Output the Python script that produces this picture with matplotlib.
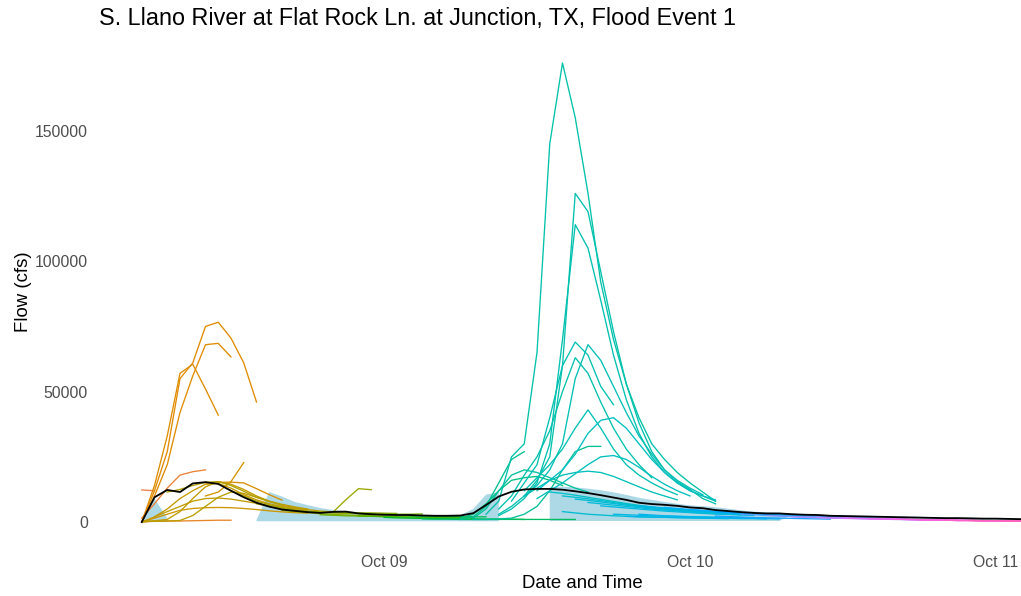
import numpy as np
import matplotlib
matplotlib.use("Agg")
import matplotlib.pyplot as plt
import matplotlib.dates as mdates
from datetime import datetime, timedelta

# Hours are counted from the start of 8 October 2018 (local time).
BASE = datetime(2018, 10, 8)

# Observed flow (cfs), hourly from hour 5 to hour 74
obs_start = 5
observed_cfs = [
    0, 9500, 12300, 11500, 14800, 15300, 14600, 12000, 9500, 7400,
    5900, 4800, 4300, 3800, 3500, 3900, 4000, 3300, 3000, 2800,
    2700, 2700, 2500, 2400, 2400, 2500, 3400, 6500, 9800, 11600,
    12500, 12700, 12700, 12400, 11800, 11100, 10300, 9400, 8500, 7400,
    6900, 6600, 6200, 5600, 5300, 4600, 4200, 3800, 3500, 3300,
    3300, 3000, 2800, 2700, 2400, 2300, 2200, 2100, 2000, 1900,
    1800, 1700, 1600, 1500, 1500, 1400, 1300, 1300, 1200, 1100,
]

nan = np.nan
# Observation envelope (same hourly grid; gaps where not available)
envelope_lo = [
    0, 0, 0, nan, nan, nan, nan, nan, nan, 300,
    300, 300, 300, 300, 300, 300, 300, 300, 300, 300,
    300, 300, 300, 300, 300, 300, 300, 300, 300, nan,
    nan, nan, 400, 400, 400, 400, 400, 400, 400, 400,
    400, 400, 400, 400, 400, 400, 400, 400, 400, 400,
    400, 2600, 2400, 2300, 2000, 1900, 1800, 1700, 1600, 1500,
    1400, 1300, 1200, 1100, 1100, 1000, 900, 900, 800, 700,
]
envelope_hi = [
    300, 9000, 1500, nan, nan, nan, nan, nan, nan, 800,
    11500, 9800, 7700, 6500, 5400, 4600, 4200, 3800, 3500, 3300,
    3100, 3000, 2800, 2700, 2700, 2700, 5000, 10500, 11500, nan,
    nan, nan, 13300, 13600, 13300, 12800, 12200, 11400, 10400, 9300,
    8500, 7700, 7000, 6400, 6100, 5700, 5100, 4500, 4000, 3700,
    3500, 3200, 3000, 2900, 2700, 2600, 2500, 2400, 2300, 2200,
    2100, 2000, 1900, 1800, 1700, 1700, 1600, 1500, 1400, 1300,
]

# Forecast runs: issue hour (drives colour), first plotted hour, hourly flows
event1_issue = [0, 0.5, 1, -4, -3, 4, 2, 6, 7, 5, 8, 9, 10, 12, -2, 15]
event1_start = [5, 5, 5, 5, 5, 10, 10, 5, 5, 5, 6, 5, 7, 12, 5, 20]
event1_flow = [
    [0, 12000, 27000, 55000, 61000, 75000, 76600, 70500, 61000, 46000],
    [0, 10000, 22000, 42000, 56000, 68000, 68500, 63300],
    [0, 14000, 33000, 57000, 60500, 51000, 41000],
    [12300, 12000],
    [1500, 7000, 13000, 18000, 19300, 20000],
    [10000, 11500, 15500, 22800],
    [15000, 15200, 15300, 15000, 12800, 10500, 8400],
    [0, 2000, 5000, 9000, 12000, 14500, 14800, 13000, 10500, 8500, 7000, 6000, 5200, 4600],
    [0, 500, 1000, 4000, 9000, 13500, 15500, 14500, 12500, 10000, 8000, 6500, 5500, 4800, 4200, 3900],
    [0, 1500, 3000, 4500, 5200, 5500, 5600, 5500, 5200, 4800, 4300, 3900, 3600, 3400],
    [2000, 4000, 6000, 8000, 9000, 9200, 8800, 8000, 7200, 6300, 5500, 4800],
    [300, 300, 400, 600, 2500, 6000, 9500, 11500, 11000, 9500, 8000, 6800, 5800, 5000],
    [11500, 12500, 14000, 15200, 15500, 14000, 11800, 9500, 7800, 6500],
    [12000, 10000, 8000, 6700, 5600, 4800, 4200, 3800, 3600],
    [0, 300, 400, 400, 500, 600, 700, 700],
    [3800, 8500, 12800, 12400],
]

lull_issue = [14, 17, 19, 16, 19.5, 22, 24, 27, 26]
lull_start = [14, 18, 21, 16, 19, 22, 24, 27, 26]
lull_flow = [
    [7000, 6000, 5200, 4500, 4000, 3700, 3500, 3300, 3200, 3100, 3000],
    [4000, 3800, 3700, 3600, 3500, 3500, 3400, 3300],
    [3500, 3300, 3100, 3000, 3000, 3000, 3100],
    [4500, 4000, 3600, 3200, 2900, 2700, 2500, 2400, 2300, 2200],
    [2800, 2600, 2400, 2300, 2200, 2100, 2000, 1900, 1900, 1800],
    [2300, 2200, 2100, 2000, 2000, 1900, 1800, 1800, 1700, 1700],
    [1800, 1600, 1500, 1400, 1300, 1300, 1200, 1200, 1100, 1100, 1100, 1000],
    [1200, 1100, 1100, 1000, 1000, 1000, 1000, 1000, 1000, 1000, 1000, 1000, 1000],
    [2400, 2300, 2200, 2100, 2100, 2000, 2000],
]

event2_issue = [29, 30, 30.5, 31, 32, 32.5, 33, 33.5, 34, 34.5, 35, 35.5, 36, 36.5]
event2_start = [30, 30, 31, 31, 32, 33, 33, 33, 34, 35, 35, 35, 36, 36]
event2_flow = [
    [1500, 3000, 7000, 12000, 16000, 17000, 17500, 16000, 14000],
    [1000, 2000, 6000, 15000, 24000, 27000],
    [1000, 1000, 1200, 1500, 3000, 6000, 12000, 20000, 27000, 29000, 29000],
    [1500, 5000, 12000, 18000, 20000, 19000, 17000, 15000, 13000, 11500],
    [3000, 8000, 25000, 30000, 65000, 145000, 176000, 155000, 126000, 92000,
     70000, 53000, 40000, 30000, 24000, 19000, 15000, 11500, 8000],
    [5000, 10000, 18000, 25000, 35000, 50000, 63000, 57000, 46000, 36000, 28000, 22000, 17000],
    [3000, 6000, 10000, 16000, 25000, 60000, 126000, 119000, 96000, 73000,
     53000, 38000, 27000, 20000, 15500, 12500, 9000, 7000],
    [2500, 5000, 9000, 15000, 30000, 70000, 114000, 105000, 85000, 64000,
     47000, 34000, 25000, 19000, 15000, 12000, 10000, 8000],
    [8000, 15000, 22000, 40000, 60000, 69000, 64000, 52000, 45000],
    [12000, 17000, 22000, 28000, 36000, 43000, 36000, 28000, 22000, 18000, 15000, 12500, 10500],
    [10000, 14000, 20000, 30000, 55000, 68000, 62000, 52000, 42000, 33000, 26000, 20000, 16000, 13000, 10500],
    [10000, 13000, 16000, 18000, 19000, 19500, 19000, 17500, 15500, 13500, 11500, 10000, 8500],
    [9000, 12000, 15000, 18500, 22000, 25000, 25500, 24000, 21000, 17500, 14500, 12000, 10000],
    [12000, 16000, 20000, 26000, 34000, 39000, 40000, 36000, 30000, 24000, 19000, 15000, 12000, 10000, 8500],
]

recess_issue = [37, 38, 38.5, 39, 40, 41, 42, 43, 44, 44.5, 46, 48, 50, 50.5, 52, 54, 56, 58, 60, 62, 64, 66, 68, 70]
recess_start = [37, 38, 38, 39, 40, 41, 42, 43, 44, 44, 46, 48, 50, 50, 52, 54, 56, 58, 60, 62, 64, 66, 68, 70]
recess_flow = [
    [11500, 11000, 10300, 9500, 8700, 7900, 7100, 6400, 5800, 5200, 4700, 4300, 3900],
    [10000, 9500, 8900, 8200, 7500, 6800, 6100, 5500, 5000, 4500, 4100, 3700, 3400],
    [4000, 3500, 3000, 2700, 2400, 2200, 2000, 1900, 1800, 1700, 1600, 1500, 1400, 1300],
    [8800, 8300, 7700, 7100, 6500, 5900, 5400, 4900, 4500, 4100, 3700, 3400, 3100],
    [7500, 7000, 6500, 6000, 5500, 5000, 4600, 4200, 3800, 3500, 3200, 3000, 2800],
    [6200, 5800, 5400, 5000, 4600, 4200, 3900, 3600, 3300, 3100, 2900, 2700, 2500],
    [3000, 2800, 2600, 2400, 2300, 2200, 2100, 2000, 1900, 1800, 1700, 1600, 1500],
    [2200, 2000, 1900, 1800, 1700, 1600, 1500, 1400, 1400, 1300, 1300, 1200],
    [6200, 5800, 5400, 5000, 4600, 4200, 3900, 3600, 3300, 3100, 2900, 2700, 2500],
    [3000, 2700, 2400, 2200, 2000, 1800, 1700, 1600, 1500, 1400, 1300, 1200],
    [5600, 5200, 4800, 4400, 4000, 3700, 3400, 3100, 2900, 2700, 2500, 2300],
    [4800, 4400, 4000, 3600, 3300, 3000, 2800, 2600, 2400, 2300, 2200, 2100],
    [3900, 3600, 3300, 3000, 2800, 2600, 2400, 2300, 2200, 2100, 2000, 1900],
    [2300, 2100, 1900, 1700, 1600, 1500, 1400, 1300, 1200, 1100],
    [3000, 2800, 2600, 2400, 2200, 2100, 2000, 1900, 1800, 1700, 1600, 1500],
    [2500, 2300, 2100, 1900, 1800, 1700, 1600, 1500, 1400, 1300, 1200, 1100],
    [2000, 1800, 1700, 1500, 1400, 1300, 1200, 1100, 1000, 900, 800, 700],
    [1800, 1600, 1500, 1400, 1300, 1200, 1100, 1000, 900, 800, 700, 700],
    [1500, 1400, 1300, 1200, 1100, 1000, 900, 800, 700, 700, 600, 600],
    [1300, 1200, 1100, 1000, 900, 800, 700, 600, 600, 500, 500, 500],
    [1100, 1000, 900, 800, 700, 600, 600, 500, 500, 400, 400],
    [900, 800, 700, 600, 600, 500, 500, 400, 400],
    [700, 600, 600, 500, 500, 400, 400],
    [600, 500, 500, 400, 400],
]

# Colour scale: issue hour -> hue on the HCL wheel (L=65, C=100)
scale_hours = [-4, 0, 5, 10, 16, 22, 27, 30, 32, 35, 37, 40, 45, 50, 55, 60, 65, 70]
scale_hues = [28, 42, 60, 78, 95, 120, 148, 168, 180, 186, 196, 210, 225, 245, 265, 300, 320, 340]


def hcl_rgb(hue, chroma=100.0, lum=65.0):
    """Polar CIE-Luv colour converted to clipped sRGB."""
    h = np.deg2rad(hue)
    U, V = chroma * np.cos(h), chroma * np.sin(h)
    Xn, Yn, Zn = 95.047, 100.0, 108.883
    d = Xn + 15 * Yn + 3 * Zn
    un, vn = 4 * Xn / d, 9 * Yn / d
    Y = Yn * ((lum + 16) / 116) ** 3
    u = U / (13 * lum) + un
    v = V / (13 * lum) + vn
    X = Y * 9 * u / (4 * v)
    Z = Y * (12 - 3 * u - 20 * v) / (4 * v)
    M = np.array([[3.240479, -1.537150, -0.498535],
                  [-0.969256, 1.875992, 0.041556],
                  [0.055648, -0.204043, 1.057311]])
    lin = M @ (np.array([X, Y, Z]) / 100.0)
    lin = np.clip(lin, 0, None)
    rgb = np.where(lin <= 0.0031308, 12.92 * lin, 1.055 * np.power(lin, 1 / 2.4) - 0.055)
    return tuple(np.clip(rgb, 0, 1))


def to_dates(hours):
    return [BASE + timedelta(hours=float(h)) for h in hours]


plt.rcParams['font.family'] = ['Liberation Sans', 'DejaVu Sans']

W, H = 1021, 596
fig = plt.figure(figsize=(W / 100, H / 100), dpi=100)
left, right, top, bottom = 92, 1072, 40, 545
ax = fig.add_axes([left / W, 1 - bottom / H, (right - left) / W, (bottom - top) / H])

grid_hours = obs_start + np.arange(len(observed_cfs))
grid_dates = to_dates(grid_hours)

ax.fill_between(grid_dates, np.array(envelope_lo, float), np.array(envelope_hi, float),
                color='#ADD8E6', linewidth=0, zorder=1)

runs = []
for issues, starts, flows in [(event1_issue, event1_start, event1_flow),
                              (lull_issue, lull_start, lull_flow),
                              (event2_issue, event2_start, event2_flow),
                              (recess_issue, recess_start, recess_flow)]:
    for iss, st, fl in zip(issues, starts, flows):
        runs.append((iss, st, fl))
runs.sort(key=lambda r: r[0])

for iss, st, fl in runs:
    hue = np.interp(iss, scale_hours, scale_hues)
    hrs = st + np.arange(len(fl))
    ax.plot(to_dates(hrs), fl, color=hcl_rgb(hue), linewidth=0.95, zorder=2,
            solid_joinstyle='round')

ax.plot(grid_dates, observed_cfs, color='black', linewidth=1.3, zorder=3)

x0 = 24 + (left - 384) / 12.75
x1 = 24 + (right - 384) / 12.75
ax.set_xlim(BASE + timedelta(hours=x0), BASE + timedelta(hours=x1))
ax.set_ylim(-8800, 184800)

ax.xaxis.set_major_locator(mdates.DayLocator())
ax.xaxis.set_major_formatter(mdates.DateFormatter('%b %d'))
ax.set_yticks([0, 50000, 100000, 150000])
ax.set_yticklabels(['0', '50000', '100000', '150000'])

for s in ax.spines.values():
    s.set_visible(False)
ax.tick_params(axis='both', length=0, labelsize=11.3, labelcolor='#4D4D4D')
ax.tick_params(axis='x', pad=7)
ax.tick_params(axis='y', pad=3)
ax.set_facecolor('white')

fig.text(99 / W, 1 - 19 / H, 'S. Llano River at Flat Rock Ln. at Junction, TX, Flood Event 1',
         ha='left', va='center', fontsize=16.85, color='black')
fig.text(582 / W, 1 - 583 / H, 'Date and Time', ha='center', va='center',
         fontsize=13.4, color='black')
fig.text(24 / W, 1 - 292 / H, 'Flow (cfs)', ha='center', va='center', rotation=90,
         fontsize=13.4, color='black')

fig.savefig('out.png', dpi=100, facecolor='white')
